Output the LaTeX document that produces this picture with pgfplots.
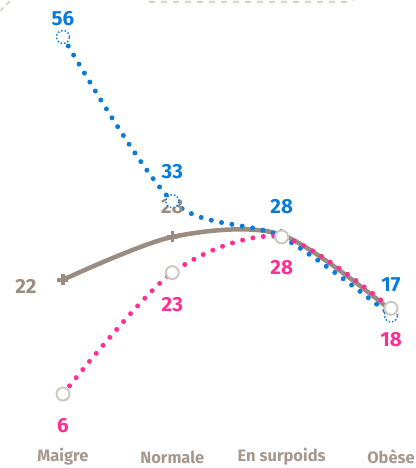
\documentclass[border=0pt]{standalone}
\usepackage{pgfplots}
\pgfplotsset{compat=1.18}
\usepackage{fontspec}
\setmainfont{Fira Sans}

\definecolor{cblue}{HTML}{0A7CD8}
\definecolor{cpink}{HTML}{FF2E93}
\definecolor{cgray}{HTML}{9A8C80}
\definecolor{caxis}{HTML}{A6988C}
\definecolor{ccircle}{HTML}{CFC8C1}
\definecolor{cdash}{HTML}{DDD6CF}

\tikzset{lbl/.style={font=\bfseries\fontsize{20.5}{20.5}\selectfont, inner sep=0pt, anchor=center}}

\begin{document}
\begin{tikzpicture}[x=1pt, y=1pt]
  \useasboundingbox (0,0) rectangle (415,468);
  \clip (0,0) rectangle (415,468);
  % bits of the legend frame, cut off at the top
  \draw[cdash, line width=2.5pt, dash pattern=on 6pt off 6pt, rounded corners=10pt]
    (140,466) rectangle (357,520);
  \draw[cdash, line width=2pt, dash pattern=on 5pt off 4pt] (0,457) -- (13,470);

  \begin{axis}[
      at={(0,0)}, anchor=south west,
      scale only axis, width=415pt, height=468pt,
      xmin=-0.576, xmax=3.2195, ymin=-4.36, ymax=61.18,
      axis line style={draw=none},
      major tick length=0pt,
      ytick=\empty,
      xtick={0,1,2,3},
      xticklabels={Maigre,Normale,En surpoids,Obèse},
      xticklabel style={anchor=center, yshift=11pt, text=caxis,
        font=\bfseries\fontsize{16.5}{16.5}\selectfont},
      clip=false,
    ]
    % total (grey, solid)
    \addplot[cgray, line width=4.5pt, smooth, mark=+, mark size=5.5pt,
      mark options={line width=3.5pt}]
      coordinates {(0,22) (1,28) (2,28.3) (3,17.7)};
    % blue, dotted
    \addplot[cblue, line width=5pt, line cap=round, dash pattern=on 0pt off 10.5pt, smooth,
      mark=*, mark size=6.5pt,
      mark options={line width=1.5pt, line cap=butt, dash pattern=on 1.5pt off 2pt,
        draw=cblue, fill=white}]
      coordinates {(0,56) (1,33) (2,28) (3,17)};
    % pink, dotted
    \addplot[cpink, line width=5pt, line cap=round, dash pattern=on 0pt off 10.5pt, smooth,
      mark=*, mark size=6.5pt,
      mark options={solid, draw=ccircle, fill=white, line width=2pt}]
      coordinates {(0,6) (1,23) (2,28) (3,18)};

    \node[lbl, text=cblue, yshift=18.5pt] at (axis cs:0,56) {56};
    \node[lbl, text=cblue, yshift=30pt] at (axis cs:1,33) {33};
    \node[lbl, text=cblue, yshift=30pt] at (axis cs:2,28) {28};
    \node[lbl, text=cblue, yshift=31pt] at (axis cs:3,17) {17};

    \node[lbl, text=cpink, yshift=-32pt] at (axis cs:0,6) {6};
    \node[lbl, text=cpink, yshift=-32pt] at (axis cs:1,23) {23};
    \node[lbl, text=cpink, yshift=-31pt] at (axis cs:2,28) {28};
    \node[lbl, text=cpink, yshift=-31.5pt] at (axis cs:3,18) {18};

    \node[lbl, text=cgray, xshift=-37pt, yshift=-7pt] at (axis cs:0,22) {22};
    \node[lbl, text=cgray, yshift=30pt] at (axis cs:1,28) {28};
  \end{axis}
\end{tikzpicture}
\end{document}
